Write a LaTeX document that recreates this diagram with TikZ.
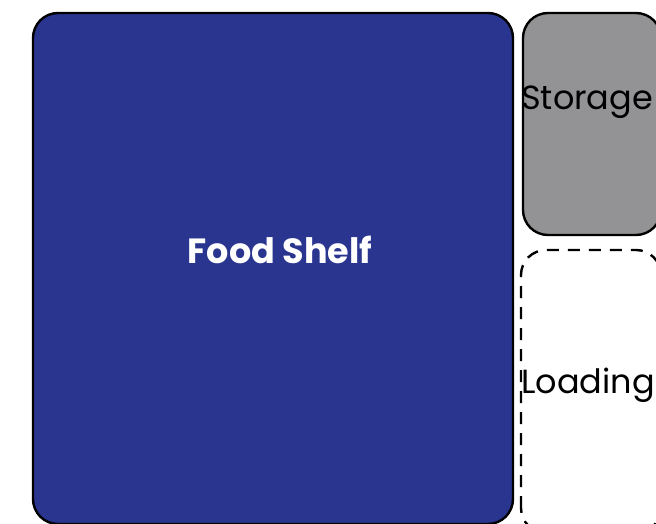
\documentclass[tikz,border=0pt]{standalone}
\usepackage{fontspec}
\setmainfont{Poppins}
\definecolor{shelfblue}{HTML}{2A358F}
\definecolor{storegray}{HTML}{939396}
\tikzset{
  zone/.style={draw=black, line width=2.4pt, rounded corners=25pt},
  lbl/.style={inner sep=0pt, font=\fontsize{33.5}{34}\selectfont},
}
\begin{document}
\begin{tikzpicture}[x=1pt,y=1pt]
\useasboundingbox (0,0) rectangle (656,523);
\draw[zone, fill=shelfblue] (33,-1) rectangle (513,510);
\draw[zone, fill=storegray] (523,288) rectangle (661,510);
\draw[zone, dash pattern=on 12pt off 9pt] (521,-10) rectangle (661,273);
\node[lbl, anchor=base, text=white, font=\fontsize{35}{35}\selectfont\bfseries] (food) at (280,260) {Food Shelf};
\node[lbl, anchor=base west] (storage) at (521,413) {Storage};
\node[lbl, anchor=base west] (loading) at (521,130) {Loading};
\end{tikzpicture}
\end{document}
